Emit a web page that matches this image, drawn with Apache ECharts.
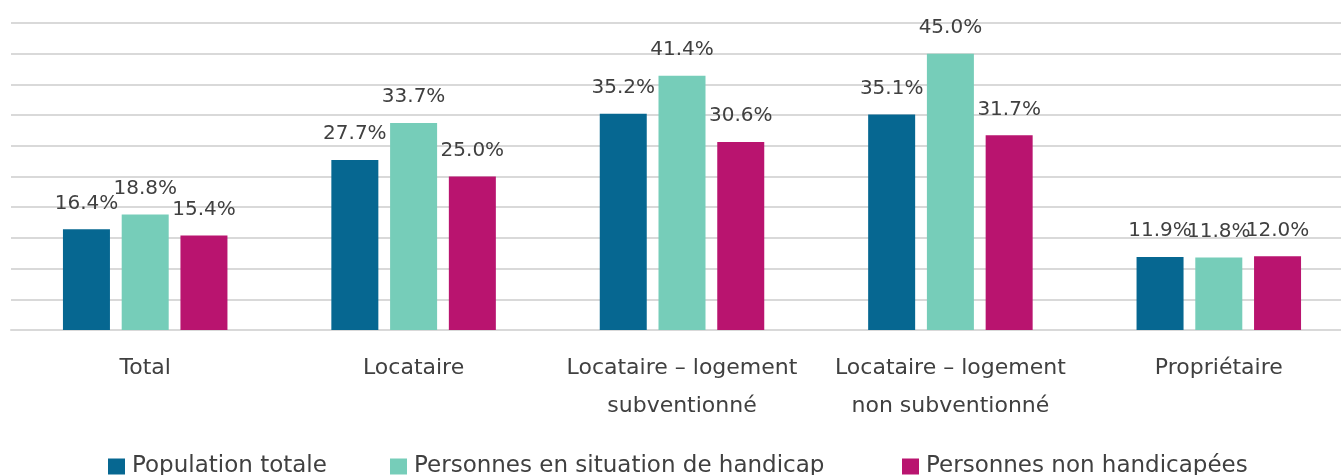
<!DOCTYPE html>
<html><head><meta charset="utf-8">
<script src="https://cdn.jsdelivr.net/npm/echarts@6/dist/echarts.min.js"></script>
<style>html,body{margin:0;padding:0;background:#fff}#c{width:1341px;height:475px}</style>
</head><body><div id="c"></div>
<script>
const categories = ['Total', 'Locataire', 'Locataire – logement\nsubventionné', 'Locataire – logement\nnon subventionné', 'Propriétaire'];
const seriesNames = ['Population totale', 'Personnes en situation de handicap', 'Personnes non handicapées'];
const populationTotale = [16.4, 27.7, 35.2, 35.1, 11.9];
const personnesHandicap = [18.8, 33.7, 41.4, 45.0, 11.8];
const personnesNonHandicapees = [15.4, 25.0, 30.6, 31.7, 12.0];
const colors = ['#066791', '#76CDB9', '#B9146F'];
const legendLefts = [103, 385, 897];
const FONT = 'DejaVu Sans';

const chart = echarts.init(document.getElementById('c'));
const mk = (name, data, color) => ({
  name, type: 'bar', data, barWidth: 47, barGap: '25%',
  itemStyle: { color },
  label: { show: true, position: 'top', distance: 16, color: '#404040', fontFamily: FONT, fontSize: 20,
    formatter: p => p.value.toFixed(1) + '%' }
});
const legends = seriesNames.map((n, i) => ({
  top: 450, left: legendLefts[i], itemWidth: 17, itemHeight: 16,
  icon: 'rect',
  textStyle: { color: '#404040', fontFamily: FONT, fontSize: 23, padding: [0, 0, 0, 2] },
  data: [n]
}));
chart.setOption({
  animation: false,
  textStyle: { fontFamily: FONT },
  grid: { left: 11, width: 1342, top: 23, bottom: 145, containLabel: false, outerBoundsMode: 'none' },
  legend: legends,
  xAxis: {
    type: 'category', data: categories,
    axisLine: { show: true, lineStyle: { color: '#d9d9d9', width: 2 } },
    axisTick: { show: false },
    axisLabel: { color: '#404040', fontFamily: FONT, fontSize: 22, margin: 19, lineHeight: 38, interval: 0 }
  },
  yAxis: {
    type: 'value', min: 0, max: 50, interval: 5,
    axisLabel: { show: false }, axisLine: { show: false }, axisTick: { show: false },
    splitLine: { lineStyle: { color: '#d9d9d9', width: 2 } }
  },
  series: [
    mk(seriesNames[0], populationTotale, colors[0]),
    mk(seriesNames[1], personnesHandicap, colors[1]),
    mk(seriesNames[2], personnesNonHandicapees, colors[2])
  ]
});
</script></body></html>
